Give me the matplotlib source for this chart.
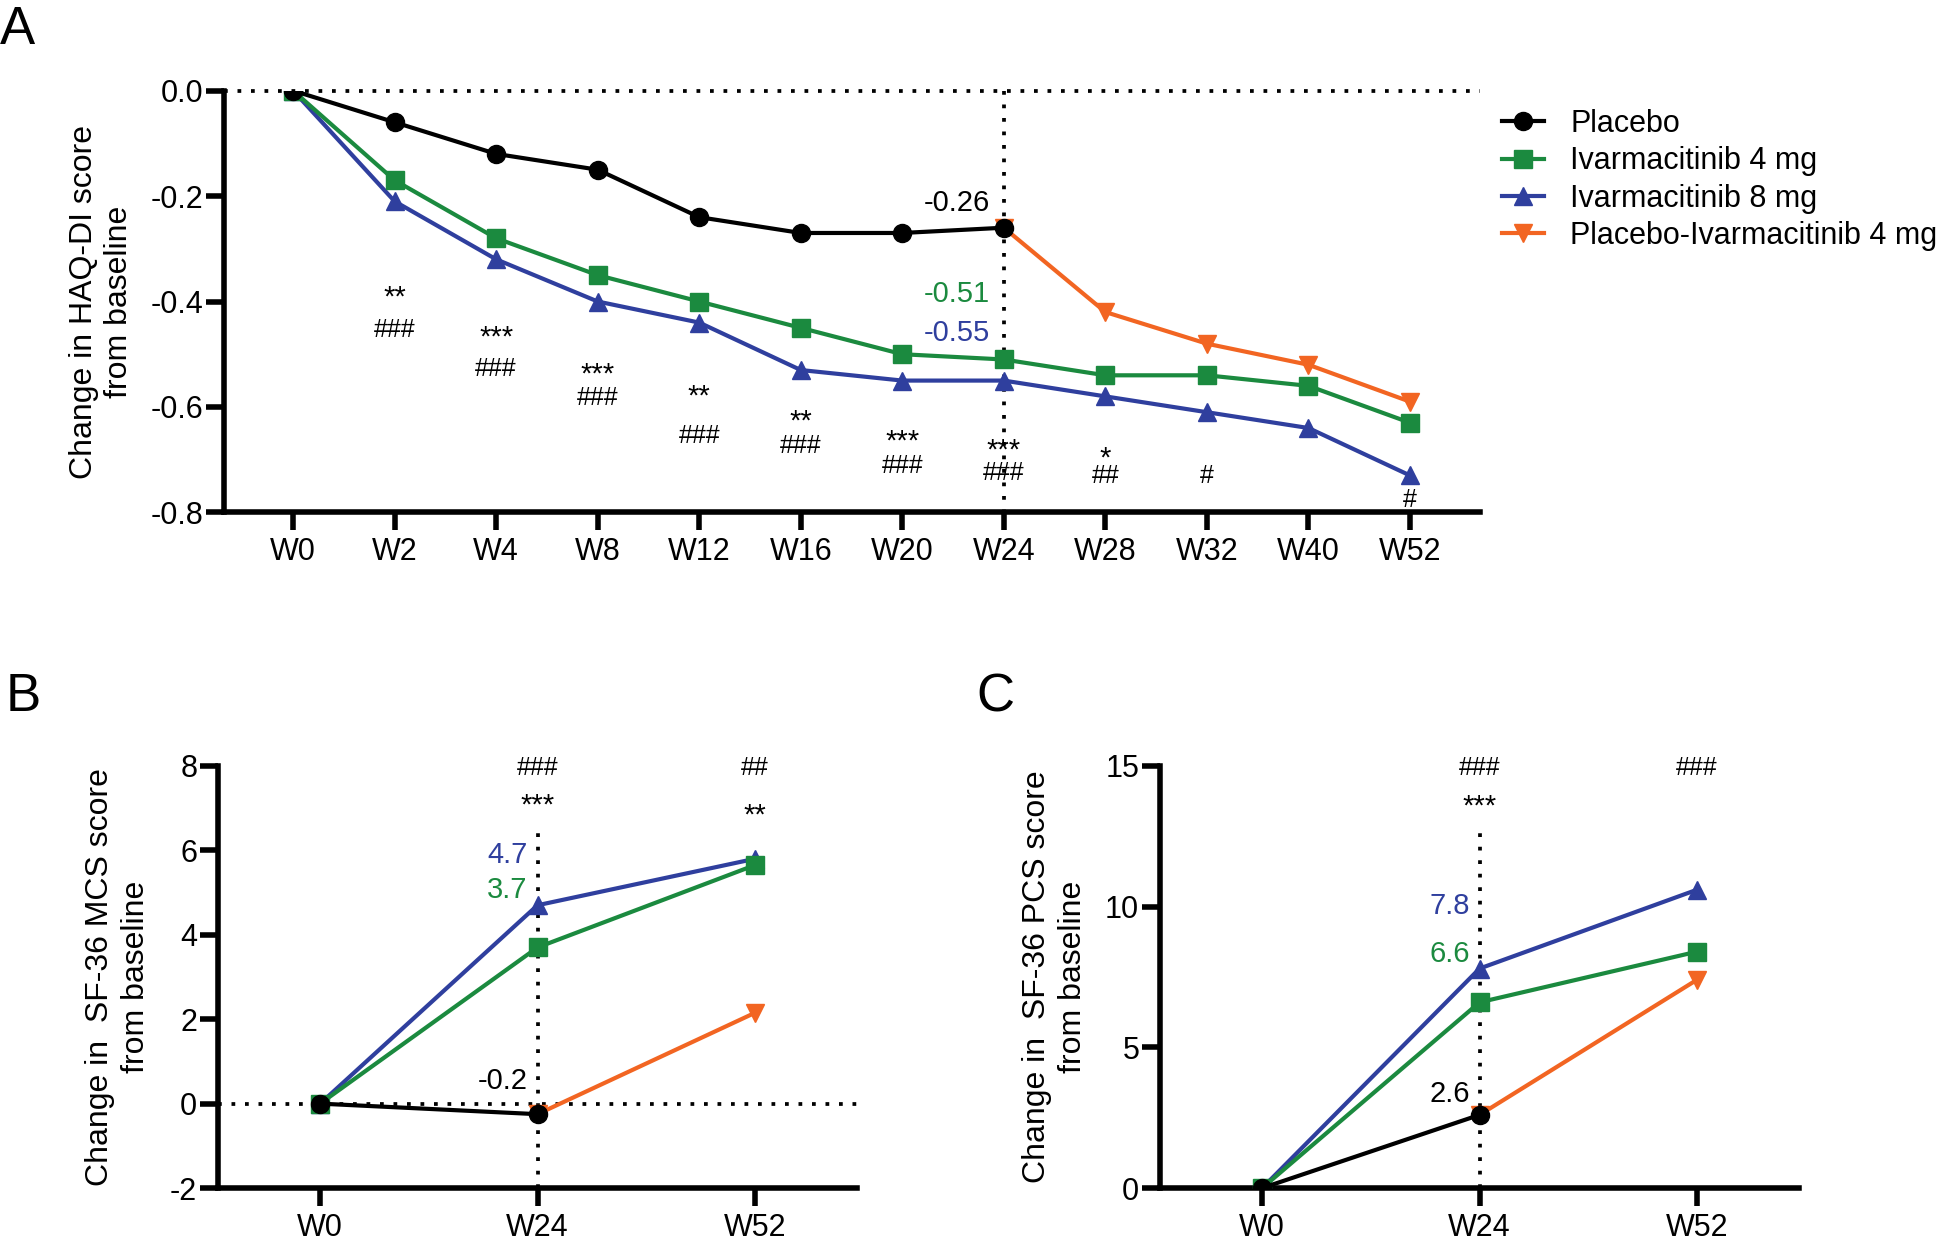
import matplotlib
matplotlib.use("Agg")
import matplotlib.pyplot as plt

plt.rcParams['font.family'] = ['Liberation Sans', 'DejaVu Sans']
plt.rcParams['axes.unicode_minus'] = False

# ---- data -------------------------------------------------------------
weeks_a = ['W0', 'W2', 'W4', 'W8', 'W12', 'W16', 'W20', 'W24', 'W28', 'W32', 'W40', 'W52']
haq_placebo = [0, -0.06, -0.12, -0.15, -0.24, -0.27, -0.27, -0.26]
haq_ivar4 = [0, -0.17, -0.28, -0.35, -0.40, -0.45, -0.50, -0.51, -0.54, -0.54, -0.56, -0.63]
haq_ivar8 = [0, -0.21, -0.32, -0.40, -0.44, -0.53, -0.55, -0.55, -0.58, -0.61, -0.64, -0.73]
haq_switch_weeks = ['W24', 'W28', 'W32', 'W40', 'W52']
haq_switch = [-0.26, -0.42, -0.48, -0.52, -0.59]

weeks_bc = ['W0', 'W24', 'W52']
switch_weeks_bc = ['W24', 'W52']
mcs_placebo = [0, -0.25]
mcs_ivar4 = [0, 3.7, 5.65]
mcs_ivar8 = [0, 4.7, 5.8]
mcs_switch = [-0.25, 2.15]

pcs_placebo = [0, 2.6]
pcs_ivar4 = [0, 6.6, 8.4]
pcs_ivar8 = [0, 7.8, 10.6]
pcs_switch = [2.6, 7.4]

labels = ['Placebo', 'Ivarmacitinib 4 mg', 'Ivarmacitinib 8 mg', 'Placebo-Ivarmacitinib 4 mg']

# significance marks: (week, text, y)
sig_a = [('W2', '**', -0.375), ('W2', '###', -0.450), ('W4', '***', -0.450), ('W4', '###', -0.524),
         ('W8', '***', -0.521), ('W8', '###', -0.578), ('W12', '**', -0.562), ('W12', '###', -0.650),
         ('W16', '**', -0.611), ('W16', '###', -0.669), ('W20', '***', -0.648), ('W20', '###', -0.707),
         ('W24', '***', -0.666), ('W24', '###', -0.720), ('W28', '*', -0.680), ('W28', '##', -0.726),
         ('W32', '#', -0.726), ('W52', '#', -0.771)]
sig_b = [('W24', '###', 8.0), ('W24', '***', 7.27), ('W52', '##', 8.0), ('W52', '**', 7.04)]
sig_c = [('W24', '###', 15.0), ('W24', '***', 13.87), ('W52', '###', 15.0)]

# W24 value labels: (text, series, y)
val_a = [('-0.26', 0, -0.207), ('-0.51', 1, -0.381), ('-0.55', 2, -0.455)]
val_b = [('4.7', 2, 5.97), ('3.7', 1, 5.14), ('-0.2', 0, 0.6)]
val_c = [('7.8', 2, 10.14), ('6.6', 1, 8.42), ('2.6', 0, 3.45)]

# ---- style ------------------------------------------------------------
colours = ['black', '#1b8a3f', '#2f3f9e', '#f26522']
markers = ['o', 's', '^', 'v']
zorders = [6, 4, 3, 5]
lw = 3
ms = 13
dots = (0, (1, 2.6))
dot_lw = 2.7


def style_axes(ax):
    for s in ['top', 'right']:
        ax.spines[s].set_visible(False)
    for s in ['left', 'bottom']:
        ax.spines[s].set_linewidth(4)
    ax.tick_params(axis='both', direction='out', length=13, width=4, labelsize=22)
    ax.tick_params(axis='y', pad=2)
    ax.tick_params(axis='x', pad=5)


def draw_series(ax, weeks, placebo, ivar4, ivar8, switch_weeks, switch):
    idx = {w: i for i, w in enumerate(weeks)}
    series = [(weeks[:len(placebo)], placebo), (weeks[:len(ivar4)], ivar4),
              (weeks[:len(ivar8)], ivar8), (switch_weeks, switch)]
    for k, (ws, vals) in enumerate(series):
        ax.plot([idx[w] for w in ws], vals, color=colours[k], marker=markers[k],
                markersize=ms, linewidth=lw, label=labels[k], zorder=zorders[k])
    return idx


def annotate(ax, idx, sig, vals, offset):
    for w, txt, y in sig:
        fs = 21 if '*' in txt else 18
        dy = -4.5 if '*' in txt else 0
        ax.annotate(txt, (idx[w], y), xytext=(0, dy), textcoords='offset points',
                    ha='center', va='center_baseline', fontsize=fs, annotation_clip=False)
    for txt, k, y in vals:
        ax.annotate(txt, (idx['W24'], y), xytext=(offset, 0), textcoords='offset points',
                    ha='right', va='center_baseline', fontsize=21, color=colours[k])


fig = plt.figure(figsize=(19.5, 12.4), dpi=100)

# ---- panel A ----------------------------------------------------------
ax_a = fig.add_axes([0.1149, 0.5868, 0.6441, 0.3401])
idx_a = draw_series(ax_a, weeks_a, haq_placebo, haq_ivar4, haq_ivar8, haq_switch_weeks, haq_switch)
ax_a.set_xlim(-0.68, 11.69)
ax_a.set_ylim(-0.8, 0)
ax_a.set_xticks(range(len(weeks_a)))
ax_a.set_xticklabels(weeks_a)
ax_a.set_yticks([0, -0.2, -0.4, -0.6, -0.8])
ax_a.set_yticklabels(['0.0', '-0.2', '-0.4', '-0.6', '-0.8'])
ax_a.axhline(0, color='black', linestyle=dots, linewidth=dot_lw, zorder=1, clip_on=False)
ax_a.plot([idx_a['W24']] * 2, [0, -0.8], color='black', linestyle=dots, linewidth=dot_lw, zorder=1)
style_axes(ax_a)
ax_a.text(-0.0975, 0.5, 'Change in HAQ-DI score\nfrom baseline', transform=ax_a.transAxes,
          rotation=90, ha='center', va='center', fontsize=23, linespacing=1.25)
annotate(ax_a, idx_a, sig_a, val_a, -10)

handles, _ = ax_a.get_legend_handles_labels()
fig.legend(handles=handles, labels=labels, loc='upper left', bbox_to_anchor=(0.770, 0.912),
           frameon=False, fontsize=22, handlelength=1.4, handletextpad=0.85,
           labelspacing=0.24, borderpad=0, borderaxespad=0)

# ---- panel B ----------------------------------------------------------
ax_b = fig.add_axes([0.1118, 0.0419, 0.3277, 0.3404])
idx_b = draw_series(ax_b, weeks_bc, mcs_placebo, mcs_ivar4, mcs_ivar8, switch_weeks_bc, mcs_switch)
ax_b.set_xlim(-0.47, 2.47)
ax_b.set_ylim(-2, 8)
ax_b.set_xticks(range(3))
ax_b.set_xticklabels(weeks_bc)
ax_b.set_yticks([-2, 0, 2, 4, 6, 8])
ax_b.axhline(0, color='black', linestyle=dots, linewidth=dot_lw, zorder=1)
ax_b.plot([idx_b['W24']] * 2, [-2, 6.45], color='black', linestyle=dots, linewidth=dot_lw, zorder=1)
style_axes(ax_b)
ax_b.text(-0.156, 0.5, 'Change in  SF-36 MCS score\nfrom baseline', transform=ax_b.transAxes,
          rotation=90, ha='center', va='center', fontsize=23, linespacing=1.25)
annotate(ax_b, idx_b, sig_b, val_b, -7)

# ---- panel C ----------------------------------------------------------
ax_c = fig.add_axes([0.5949, 0.0419, 0.3277, 0.3404])
idx_c = draw_series(ax_c, weeks_bc, pcs_placebo, pcs_ivar4, pcs_ivar8, switch_weeks_bc, pcs_switch)
ax_c.set_xlim(-0.47, 2.47)
ax_c.set_ylim(0, 15)
ax_c.set_xticks(range(3))
ax_c.set_xticklabels(weeks_bc)
ax_c.set_yticks([0, 5, 10, 15])
ax_c.plot([idx_c['W24']] * 2, [0, 12.6], color='black', linestyle=dots, linewidth=dot_lw, zorder=1)
style_axes(ax_c)
ax_c.text(-0.164, 0.5, 'Change in  SF-36 PCS score\nfrom baseline', transform=ax_c.transAxes,
          rotation=90, ha='center', va='center', fontsize=23, linespacing=1.25)
annotate(ax_c, idx_c, sig_c, val_c, -7)

# panel letters
fig.text(0.0, 0.9645, 'A', fontsize=38, va='baseline')
fig.text(0.003, 0.4266, 'B', fontsize=38, va='baseline')
fig.text(0.5005, 0.4266, 'C', fontsize=38, va='baseline')

fig.savefig('out.png', dpi=100)
